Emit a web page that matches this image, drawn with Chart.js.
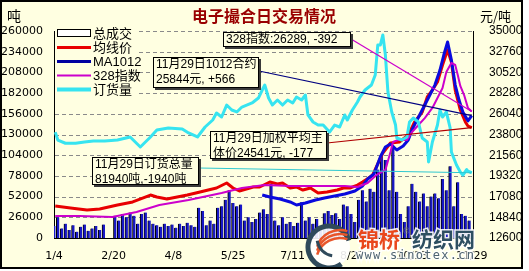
<!DOCTYPE html>
<html>
<head>
<meta charset="utf-8">
<script src="https://cdn.jsdelivr.net/npm/chart.js@4.4.1/dist/chart.umd.min.js"></script>
<style>
  html, body { margin: 0; padding: 0; background: #fff; }
  #wrap { width: 529px; height: 271px; }
</style>
</head>
<body>
<div id="wrap"><canvas id="c" width="529" height="271"></canvas></div>
<script>
// x axis: days counted from 1/4
const tickDays = [0, 47, 94, 141, 188, 235, 282, 329]
const tickLabels = ['1/4', '2/20', '4/8', '5/25', '7/11', '8/27', '10/13', '11/29']
const leftTicks = [0, 26000, 52000, 78000, 104000, 130000, 156000, 182000, 208000, 234000, 260000]
const rightTicks = [12600, 14840, 17080, 19320, 21560, 23800, 26040, 28280, 30520, 32760, 35000]

// 总成交 (tons), one bar every 3 days, gap over the spring festival
const volume = [
	15000, 26000, 12000, 18000, 10000, 16000, 8000, 14000, 17000, 9000,
	12000, 15000, 10000, 17000, null, null, 28000, 22000, 30000, 26000,
	32000, 28000, 18000, 30000, 32000, 22000, 18000, 16000, 14000, 18000,
	15000, 17000, 13000, 18000, 15000, 19000, 16000, 14000, 38000, 34000,
	16000, 22000, 18000, 38000, 40000, 48000, 60000, 44000, 40000, 42000,
	22000, 26000, 20000, 24000, 32000, 36000, 30000, 68000, 22000, 16000,
	26000, 18000, 20000, 15000, 19000, 45000, 22000, 26000, 18000, 24000,
	14000, 31000, 34000, 29000, 31000, 24000, 42000, 40000, 30000, 20000,
	48000, 60000, 46000, 62000, 58000, 86000, 104000, 98000, 60000, 116000,
	58000, 30000, 20000, 40000, 68000, 58000, 46000, 56000, 40000, 52000,
	56000, 50000, 74000, 60000, 90000, 40000, 70000, 30000, 28000, 22000,
]
const volumeDays = volume.map((v, i) => i * 3)

// 均线价 (yuan/ton)
const avgDays = [1, 13, 26, 36, 50, 62, 76, 81, 89, 105, 115, 128, 136, 141, 146, 157, 162, 170, 176, 180,
	186, 191, 196, 202, 208, 215, 223, 228, 233, 239, 243, 249, 251, 259, 265, 272, 279, 284, 290, 294,
	298, 302, 306, 310, 313, 316, 320, 324, 326, 329]
const avgPrice = [16060, 15850, 15630, 15740, 16170, 16500, 17250, 17040, 16820, 17250, 17580, 18010, 18550, 18010, 17690, 18120, 18120, 18660, 18440, 18550,
	18010, 18120, 17790, 18010, 17470, 17580, 17790, 18010, 18010, 18330, 18660, 19200, 19420, 21800, 22880, 22990, 23740, 25150, 26230, 27860,
	28610, 29480, 31320, 32940, 31640, 28610, 26450, 25150, 24718, 24541]

// MA1012 contract
const maDays = [164, 170, 178, 186, 191, 198, 206, 213, 221, 229, 237, 243, 247, 252, 257, 261, 265, 270, 275, 279,
	282, 285, 288, 292, 296, 300, 304, 307, 310, 313, 316, 319, 322, 326, 329]
const maPrice = [17250, 17040, 16820, 16500, 16170, 16390, 16710, 16930, 17140, 17360, 17690, 18230, 18980, 19520, 21360, 22450, 22770, 22120, 22550, 23200,
	24290, 25150, 25910, 26990, 28070, 29150, 30780, 32400, 33810, 31860, 29150, 27530, 26230, 25278, 25844]

// 328指数
const idxDays = [1, 20, 46, 65, 83, 106, 132, 148, 166, 186, 209, 229, 239, 247, 254, 261, 265, 267, 271, 278,
	282, 287, 292, 298, 302, 306, 309, 313, 316, 318, 320, 323, 326, 329]
const idxPrice = [14980, 14980, 14870, 15410, 16170, 16710, 17470, 18010, 18330, 18230, 18230, 18230, 18120, 18550, 19420, 19960, 21910, 22990, 23200, 23200,
	24070, 24830, 25580, 26670, 27750, 28830, 30560, 31540, 31320, 30240, 29050, 28070, 26681, 26289]

// 订货量 (tons)
const orderDays = [1, 3, 9, 17, 24, 31, 40, 50, 60, 68, 76, 81, 90, 101, 106, 113, 119, 125, 128, 132,
	136, 140, 144, 148, 156, 161, 164, 166, 169, 172, 176, 180, 184, 188, 191, 195, 198, 200, 204, 208,
	212, 217, 221, 225, 229, 231, 235, 239, 241, 245, 250, 253, 255, 257, 259, 261, 263, 266, 269, 270,
	274, 278, 280, 283, 287, 290, 294, 295, 298, 302, 304, 306, 309, 312, 313, 317, 320, 322, 325, 326, 329]
const orderTons = [133000, 123000, 119000, 119000, 120600, 121800, 121800, 123000, 126900, 114300, 126900, 135600, 138200, 136900, 131900, 126900, 139400, 148200, 157000, 152000,
	167000, 160800, 158300, 164500, 169600, 175800, 185900, 192200, 175800, 167000, 173300, 167000, 173300, 169600, 177100, 173300, 179600, 154500, 145700, 141900,
	141900, 133100, 141900, 139400, 154500, 148200, 160800, 170800, 177100, 185900, 192200, 204700, 242400, 242400, 255000, 229800, 183400, 158300, 141900, 125600,
	123100, 126900, 145700, 150700, 145700, 125600, 120600, 95500, 120600, 141900, 160800, 152000, 158300, 138200, 108000, 91700, 82900, 79100, 86000, 83880, 81940]

const BG = '#FFFFE1'
const RED = '#E80000'
const BLUE = '#0A0ADD'
const MAGENTA = '#CC00CC'
const CYAN = '#36E4F0'
const FONT = '"Liberation Sans", "Noto Sans CJK SC", sans-serif'
const CJK = '"Noto Sans CJK SC", sans-serif'

const pts = (days, vals) => days.map((d, i) => ({ x: d, y: vals[i] }))

const legendItems = [
	{ label: '总成交', box: true },
	{ label: '均线价', color: RED, width: 3 },
	{ label: 'MA1012', color: '#0000A0', width: 3 },
	{ label: '328指数', color: MAGENTA, width: 2 },
	{ label: '订货量', color: CYAN, width: 4 },
]

// callouts: box position, text, leader colour, dataset the leader points at
const callouts = [
	{ x: 223, y: 32, w: 128, h: 15, lines: ['328指数:26289, -392'], from: [351, 39], color: MAGENTA, ds: 3 },
	{ x: 153, y: 57, w: 106, h: 31, lines: ['11月29日1012合约', '25844元, +566'], from: [259, 71], color: '#000080', ds: 2 },
	{ x: 210, y: 131, w: 117, h: 28, lines: ['11月29日加权平均主', '体价24541元, -177'], from: [327, 143], color: '#B00000', ds: 1 },
	{ x: 92, y: 157, w: 107, h: 28, lines: ['11月29日订货总量', '81940吨,-1940吨'], from: [199, 168], color: '#30C8D0', ds: 4 },
]

const frame = {
	id: 'frame',
	beforeDraw(chart) {
		const { ctx, width, height } = chart
		ctx.save()
		ctx.fillStyle = '#fff'
		ctx.fillRect(0, 0, width, height)
		ctx.fillStyle = BG
		ctx.fillRect(1, 1, 521, 267)
		ctx.strokeStyle = '#000'
		ctx.lineWidth = 2
		ctx.strokeRect(1, 1, 521, 267)
		ctx.restore()
	},
}

const dashedGrid = {
	id: 'dashedGrid',
	beforeDatasetsDraw(chart) {
		const { ctx, chartArea: a, scales: { y } } = chart
		ctx.save()
		ctx.strokeStyle = '#8a8a8a'
		ctx.lineWidth = 1
		ctx.setLineDash([4, 3])
		leftTicks.forEach((v) => {
			if (v === 0) return
			const py = Math.round(y.getPixelForValue(v)) + 0.5
			ctx.beginPath()
			ctx.moveTo(a.left + 1, py)
			ctx.lineTo(a.right, py)
			ctx.stroke()
		})
		ctx.restore()
	},
}

const overlay = {
	id: 'overlay',
	afterDatasetsDraw(chart) {
		const { ctx } = chart
		ctx.save()

		// legend
		ctx.fillStyle = BG
		ctx.fillRect(55, 26, 84, 71)
		ctx.font = `13px ${FONT}`
		ctx.textBaseline = 'middle'
		legendItems.forEach((item, i) => {
			const ly = 33 + i * 14
			if (item.box) {
				ctx.fillStyle = '#fff'
				ctx.fillRect(57, ly - 3, 33, 7)
				ctx.strokeStyle = '#000'
				ctx.lineWidth = 1
				ctx.strokeRect(57.5, ly - 3.5, 33, 7)
			} else {
				ctx.strokeStyle = item.color
				ctx.lineWidth = item.width
				ctx.beginPath()
				ctx.moveTo(57, ly + 0.5)
				ctx.lineTo(91, ly + 0.5)
				ctx.stroke()
			}
			ctx.fillStyle = '#000'
			ctx.fillText(item.label, 93, ly + 1)
		})

		// leader lines to the last point of each series
		callouts.forEach((c) => {
			const meta = chart.getDatasetMeta(c.ds)
			const last = meta.data[meta.data.length - 1]
			ctx.strokeStyle = c.color
			ctx.lineWidth = 1.2
			ctx.beginPath()
			ctx.moveTo(c.from[0], c.from[1])
			ctx.lineTo(last.x, last.y)
			ctx.stroke()
		})

		// callout boxes
		ctx.font = `12px ${FONT}`
		callouts.forEach((c) => {
			ctx.fillStyle = '#3a3a3a'
			ctx.fillRect(c.x + 2, c.y + 2, c.w, c.h)
			ctx.fillStyle = BG
			ctx.fillRect(c.x, c.y, c.w, c.h)
			ctx.strokeStyle = '#000'
			ctx.lineWidth = 1
			ctx.strokeRect(c.x + 0.5, c.y + 0.5, c.w - 1, c.h - 1)
			ctx.fillStyle = '#000'
			c.lines.forEach((t, i) => ctx.fillText(t, c.x + 3, c.y + 8 + i * 14.5))
		})
		ctx.restore()
	},
	afterDraw(chart) {
		const { ctx } = chart
		ctx.save()
		ctx.textBaseline = 'middle'

		// title and units
		ctx.fillStyle = '#990000'
		ctx.font = `bold 16px ${CJK}`
		ctx.textAlign = 'center'
		ctx.fillText('电子撮合日交易情况', 264, 16)
		ctx.textAlign = 'left'
		ctx.fillStyle = '#000'
		ctx.font = `14px ${CJK}`
		ctx.fillText('吨', 7, 16)
		ctx.font = `13px ${CJK}`
		ctx.fillText('元/吨', 480, 16)

		// site watermark
		ctx.beginPath()
		ctx.rect(2, 2, 519, 265)
		ctx.clip()
		ctx.beginPath()
		ctx.arc(329, 247, 21, 0, Math.PI * 2)
		ctx.fillStyle = 'rgba(255,255,255,0.9)'
		ctx.fill()
		ctx.lineWidth = 5
		ctx.strokeStyle = '#2F4A5A'
		ctx.beginPath()
		ctx.arc(329, 247, 21, 0.3 * Math.PI, 1.9 * Math.PI)
		ctx.stroke()
		ctx.strokeStyle = '#E8552A'
		ctx.lineWidth = 2.5
		for (let i = 0; i < 3; i += 1) {
			ctx.beginPath()
			ctx.arc(340, 262 - i * 4, 24, 1.1 * Math.PI, 1.6 * Math.PI)
			ctx.stroke()
		}
		ctx.strokeStyle = '#2F4A5A'
		ctx.lineWidth = 3
		ctx.beginPath()
		ctx.arc(335, 238, 18, 0.55 * Math.PI, 0.95 * Math.PI)
		ctx.stroke()

		ctx.font = `bold 21px ${CJK}`
		ctx.lineWidth = 3
		ctx.strokeStyle = 'rgba(255,255,255,0.9)'
		ctx.strokeText('锦桥', 358, 239)
		ctx.strokeText('纺织网', 412, 239)
		ctx.fillStyle = '#E9471C'
		ctx.fillText('锦桥', 358, 239)
		ctx.fillStyle = '#2E4F62'
		ctx.fillText('纺织网', 412, 239)
		ctx.font = `9px ${FONT}`
		ctx.fillStyle = '#777'
		ctx.fillText('®', 403, 232)
		ctx.font = '12px "DejaVu Sans Mono", monospace'
		ctx.letterSpacing = '1.3px'
		ctx.strokeStyle = 'rgba(255,255,255,0.8)'
		ctx.strokeText('www.sinotex.cn', 356, 256)
		ctx.fillStyle = '#4F6472'
		ctx.fillText('www.sinotex.cn', 356, 256)
		ctx.restore()
	},
}

const chart = new Chart(document.getElementById('c'), {
	type: 'bar',
	data: {
		datasets: [
			{
				type: 'bar',
				label: '总成交',
				data: pts(volumeDays, volume),
				yAxisID: 'y',
				backgroundColor: '#1818C8',
				borderColor: '#000',
				borderWidth: { left: 1, right: 0, top: 0, bottom: 0 },
				barThickness: 3,
				order: 5,
			},
			{
				type: 'line',
				label: '均线价',
				data: pts(avgDays, avgPrice),
				yAxisID: 'y1',
				borderColor: RED,
				borderWidth: 3,
				pointRadius: 0,
				order: 4,
			},
			{
				type: 'line',
				label: 'MA1012',
				data: pts(maDays, maPrice),
				yAxisID: 'y1',
				borderColor: BLUE,
				borderWidth: 3,
				pointRadius: 0,
				order: 3,
			},
			{
				type: 'line',
				label: '328指数',
				data: pts(idxDays, idxPrice),
				yAxisID: 'y1',
				borderColor: MAGENTA,
				borderWidth: 2,
				pointRadius: 0,
				order: 2,
			},
			{
				type: 'line',
				label: '订货量',
				data: pts(orderDays, orderTons),
				yAxisID: 'y',
				borderColor: CYAN,
				borderWidth: 3,
				pointRadius: 0,
				order: 1,
			},
		],
	},
	options: {
		responsive: false,
		animation: false,
		events: [],
		layout: { padding: { top: 31, left: 0, right: 0, bottom: 0 } },
		plugins: { legend: { display: false }, tooltip: { enabled: false } },
		elements: { line: { tension: 0, borderJoinStyle: 'round', fill: false } },
		scales: {
			x: {
				type: 'linear',
				min: 0,
				max: 330,
				offset: false,
				grid: { display: false },
				border: { color: '#000', width: 1 },
				afterBuildTicks: (s) => { s.ticks = tickDays.map((v) => ({ value: v })) },
				afterFit: (s) => { s.height = 33 },
				ticks: {
					autoSkip: false,
					maxRotation: 0,
					padding: 4,
					color: '#000',
					font: { family: '"DejaVu Sans", sans-serif', size: 11 },
					callback: (v) => tickLabels[tickDays.indexOf(v)],
				},
			},
			y: {
				position: 'left',
				min: 0,
				max: 260000,
				grid: { display: false },
				border: { color: '#000', width: 1 },
				afterBuildTicks: (s) => { s.ticks = leftTicks.map((v) => ({ value: v })) },
				afterFit: (s) => { s.width = 54 },
				ticks: {
					padding: 3,
					color: '#000',
					font: { family: '"DejaVu Sans", sans-serif', size: 11 },
					callback: (v) => String(v),
				},
			},
			y1: {
				position: 'right',
				min: 12600,
				max: 35000,
				grid: { display: false },
				border: { color: '#000', width: 1 },
				afterBuildTicks: (s) => { s.ticks = rightTicks.map((v) => ({ value: v })) },
				afterFit: (s) => { s.width = 56 },
				ticks: {
					padding: 8,
					color: '#000',
					font: { family: '"Liberation Sans Narrow", "Liberation Sans", sans-serif', size: 12 },
					callback: (v) => String(v),
				},
			},
		},
	},
	plugins: [frame, dashedGrid, overlay],
})
</script>
</body>
</html>
